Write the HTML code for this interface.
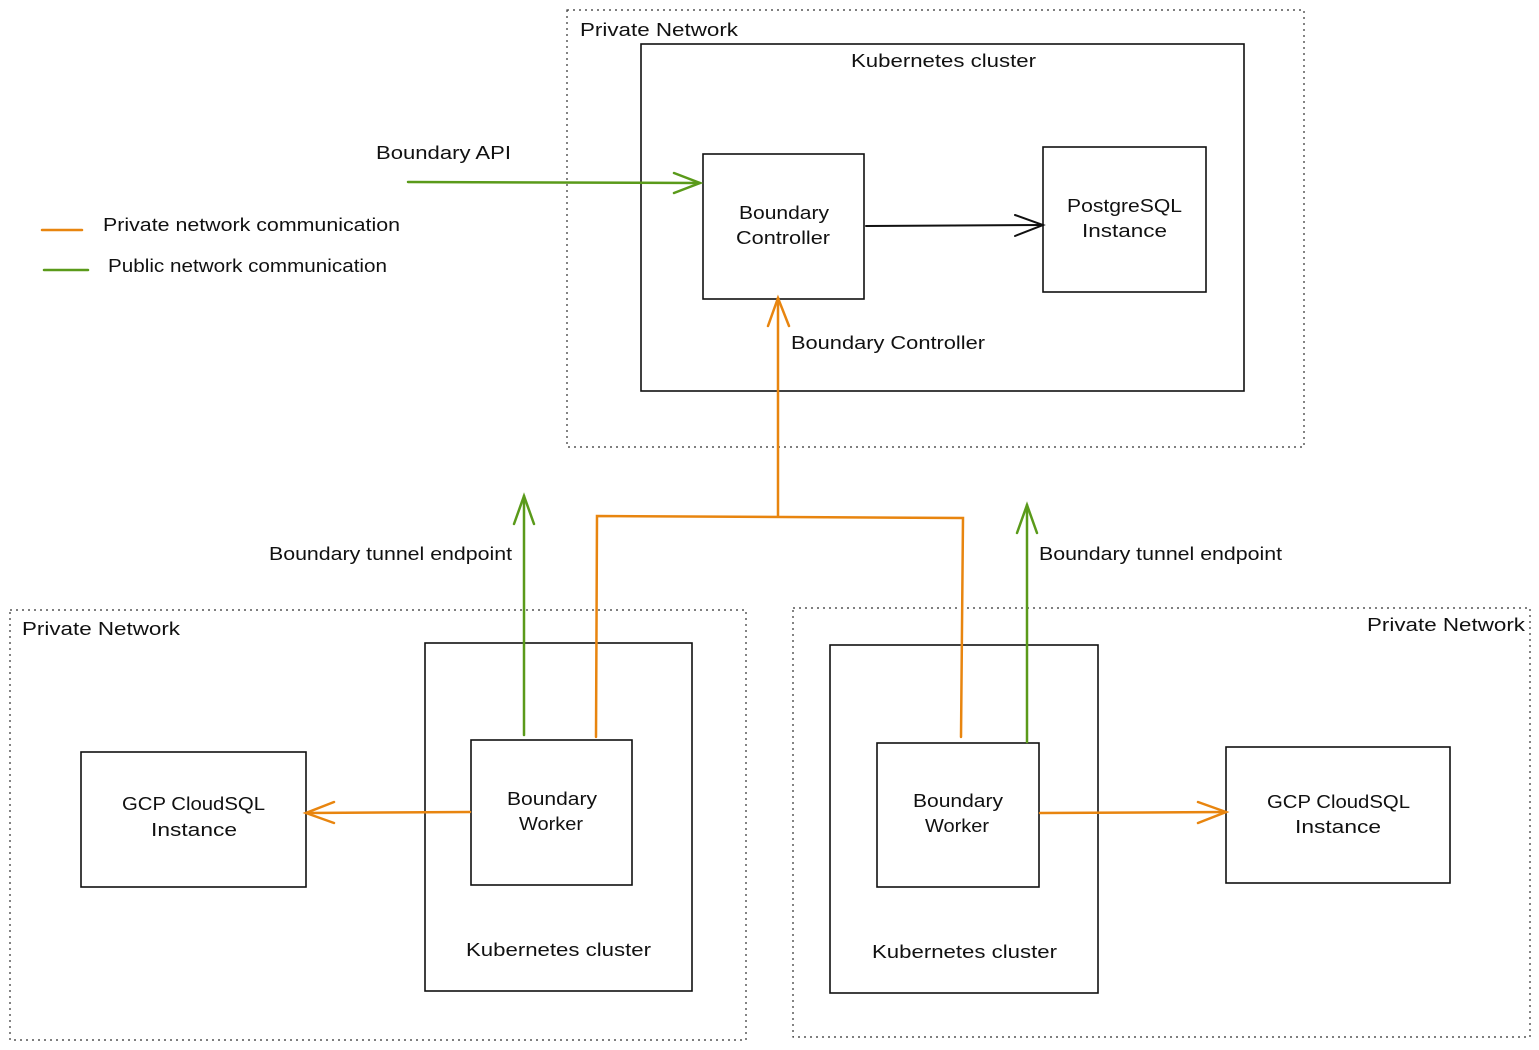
<!DOCTYPE html>
<html><head><meta charset="utf-8"><style>
html,body{margin:0;padding:0;background:#fff;}
svg{display:block;}
text{font-family:"Liberation Sans",sans-serif;font-size:18px;fill:#111;}
</style></head><body>
<svg width="1539" height="1050" viewBox="0 0 1539 1050" xmlns="http://www.w3.org/2000/svg">
<g fill="none" stroke="#333" stroke-width="1.2" stroke-dasharray="2,4">
<rect x="567" y="10" width="737" height="437"/>
<rect x="10" y="610" width="736" height="430"/>
<rect x="793" y="608" width="737" height="429"/>
</g>
<g fill="none" stroke="#111" stroke-width="1.6">
<rect x="641" y="44" width="603" height="347"/>
<rect x="703" y="154" width="161" height="145"/>
<rect x="1043" y="147" width="163" height="145"/>
<rect x="425" y="643" width="267" height="348"/>
<rect x="471" y="740" width="161" height="145"/>
<rect x="81" y="752" width="225" height="135"/>
<rect x="830" y="645" width="268" height="348"/>
<rect x="877" y="743" width="162" height="144"/>
<rect x="1226" y="747" width="224" height="136"/>
</g>
<g fill="none" stroke="#111" stroke-width="2" stroke-linecap="round">
<path d="M866 226 L1043 225"/><path d="M1015 215 L1043 225 L1015 236"/>
</g>
<g fill="none" stroke="#5a9a1a" stroke-width="2.5" stroke-linecap="round">
<path d="M408 182 L700 183"/><path d="M674 173 L700 183 L674 193"/>
<path d="M524 735 L524 496"/><path d="M514 524 L524 496 L534 524"/>
<path d="M1027 742 L1027 505"/><path d="M1017 533 L1027 505 L1037 533"/>
<path d="M44 270 L88 270"/>
</g>
<g fill="none" stroke="#e8850f" stroke-width="2.5" stroke-linecap="round">
<path d="M778 516 L778 298"/><path d="M768 326 L778 298 L789 326"/>
<path d="M596 737 L597 516 L963 518 L961 737"/>
<path d="M470 812 L306 813"/><path d="M334 802 L306 813 L334 823"/>
<path d="M1040 813 L1226 812"/><path d="M1198 802 L1226 812 L1198 823"/>
<path d="M42 230 L82 230"/>
</g>
<g lengthAdjust="spacingAndGlyphs">
<text x="580" y="36" textLength="158" lengthAdjust="spacingAndGlyphs">Private Network</text>
<text x="851" y="67" textLength="185" lengthAdjust="spacingAndGlyphs">Kubernetes cluster</text>
<text x="739" y="219" textLength="90" lengthAdjust="spacingAndGlyphs">Boundary</text>
<text x="736" y="244" textLength="94" lengthAdjust="spacingAndGlyphs">Controller</text>
<text x="1067" y="212" textLength="115" lengthAdjust="spacingAndGlyphs">PostgreSQL</text>
<text x="1082" y="237" textLength="85" lengthAdjust="spacingAndGlyphs">Instance</text>
<text x="376" y="159" textLength="135" lengthAdjust="spacingAndGlyphs">Boundary API</text>
<text x="103" y="231" textLength="297" lengthAdjust="spacingAndGlyphs">Private network communication</text>
<text x="108" y="272" textLength="279" lengthAdjust="spacingAndGlyphs">Public network communication</text>
<text x="791" y="349" textLength="194" lengthAdjust="spacingAndGlyphs">Boundary Controller</text>
<text x="269" y="560" textLength="243" lengthAdjust="spacingAndGlyphs">Boundary tunnel endpoint</text>
<text x="1039" y="560" textLength="243" lengthAdjust="spacingAndGlyphs">Boundary tunnel endpoint</text>
<text x="22" y="635" textLength="158" lengthAdjust="spacingAndGlyphs">Private Network</text>
<text x="1367" y="631" textLength="158" lengthAdjust="spacingAndGlyphs">Private Network</text>
<text x="466" y="956" textLength="185" lengthAdjust="spacingAndGlyphs">Kubernetes cluster</text>
<text x="872" y="958" textLength="185" lengthAdjust="spacingAndGlyphs">Kubernetes cluster</text>
<text x="507" y="805" textLength="90" lengthAdjust="spacingAndGlyphs">Boundary</text>
<text x="519" y="830" textLength="64" lengthAdjust="spacingAndGlyphs">Worker</text>
<text x="913" y="807" textLength="90" lengthAdjust="spacingAndGlyphs">Boundary</text>
<text x="925" y="832" textLength="64" lengthAdjust="spacingAndGlyphs">Worker</text>
<text x="122" y="810" textLength="143" lengthAdjust="spacingAndGlyphs">GCP CloudSQL</text>
<text x="151" y="836" textLength="86" lengthAdjust="spacingAndGlyphs">Instance</text>
<text x="1267" y="808" textLength="143" lengthAdjust="spacingAndGlyphs">GCP CloudSQL</text>
<text x="1295" y="833" textLength="86" lengthAdjust="spacingAndGlyphs">Instance</text>
</g>
</svg>
</body></html>
